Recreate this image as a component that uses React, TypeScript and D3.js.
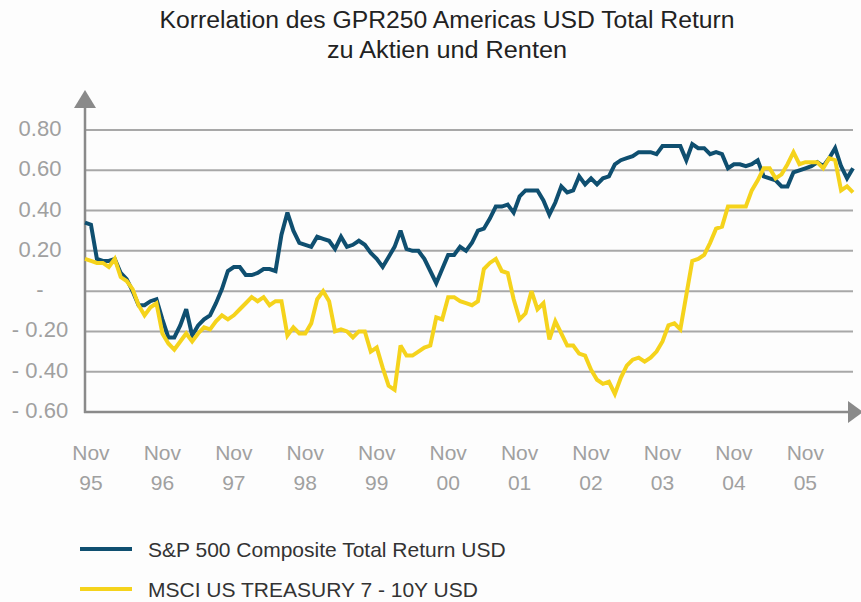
import React from "react";
import * as d3 from "d3";

const months: string[] = d3.timeMonths(new Date(1995, 9, 1), new Date(2006, 7, 1)).map((d) => d3.timeFormat("%Y-%m")(d));

const sp500: number[] = [
  0.34, 0.33, 0.16, 0.15, 0.15, 0.16, 0.09, 0.06, 0.0, -0.07,
  -0.07, -0.05, -0.04, -0.14, -0.23, -0.23, -0.17, -0.09, -0.22, -0.17,
  -0.14, -0.12, -0.06, 0.01, 0.1, 0.12, 0.12, 0.08, 0.08, 0.09,
  0.11, 0.11, 0.1, 0.28, 0.39, 0.3, 0.24, 0.23, 0.22, 0.27,
  0.26, 0.25, 0.21, 0.27, 0.22, 0.23, 0.25, 0.23, 0.19, 0.16,
  0.12, 0.17, 0.22, 0.3, 0.21, 0.2, 0.2, 0.16, 0.1, 0.04,
  0.11, 0.18, 0.18, 0.22, 0.2, 0.24, 0.3, 0.31, 0.36, 0.42,
  0.42, 0.43, 0.39, 0.47, 0.5, 0.5, 0.5, 0.45, 0.38, 0.44,
  0.52, 0.49, 0.5, 0.57, 0.53, 0.56, 0.53, 0.56, 0.57, 0.63,
  0.65, 0.66, 0.67, 0.69, 0.69, 0.69, 0.68, 0.72, 0.72, 0.72,
  0.72, 0.65, 0.73, 0.71, 0.71, 0.68, 0.69, 0.68, 0.61, 0.63,
  0.63, 0.62, 0.63, 0.65, 0.57, 0.56, 0.55, 0.52, 0.52, 0.59,
  0.6, 0.61, 0.62, 0.64, 0.62, 0.66, 0.71, 0.62, 0.56, 0.61,
];

const treasury: number[] = [
  0.16, 0.15, 0.14, 0.14, 0.12, 0.16, 0.07, 0.05, 0.01, -0.07,
  -0.12, -0.08, -0.06, -0.21, -0.26, -0.29, -0.25, -0.21, -0.25, -0.21,
  -0.18, -0.19, -0.15, -0.12, -0.14, -0.12, -0.09, -0.06, -0.03, -0.05,
  -0.03, -0.07, -0.05, -0.05, -0.22, -0.18, -0.21, -0.21, -0.16, -0.04,
  0.0, -0.05, -0.2, -0.19, -0.2, -0.23, -0.2, -0.2, -0.3, -0.28,
  -0.38, -0.47, -0.49, -0.27, -0.32, -0.32, -0.3, -0.28, -0.27, -0.13,
  -0.14, -0.03, -0.03, -0.05, -0.06, -0.07, -0.05, 0.11, 0.14, 0.16,
  0.1, 0.09, -0.04, -0.14, -0.11, 0.0, -0.09, -0.06, -0.24, -0.15,
  -0.21, -0.27, -0.27, -0.31, -0.32, -0.39, -0.44, -0.46, -0.45, -0.51,
  -0.43, -0.37, -0.34, -0.33, -0.35, -0.33, -0.3, -0.25, -0.17, -0.16,
  -0.19, -0.02, 0.15, 0.16, 0.18, 0.24, 0.31, 0.32, 0.42, 0.42,
  0.42, 0.42, 0.5, 0.55, 0.61, 0.61, 0.56, 0.58, 0.63, 0.69,
  0.63, 0.64, 0.64, 0.64, 0.61, 0.66, 0.65, 0.5, 0.52, 0.49,
];

const yTicks: number[] = [0.8, 0.6, 0.4, 0.2, 0, -0.2, -0.4, -0.6];
const yTickLabels: string[] = ["0.80", "0.60", "0.40", "0.20", "-", "- 0.20", "- 0.40", "- 0.60"];
const xTickMonths: string[] = ["1995-11", "1996-11", "1997-11", "1998-11", "1999-11", "2000-11", "2001-11", "2002-11", "2003-11", "2004-11", "2005-11"];
const xTickLabels: string[][] = [
  ["Nov", "95"], ["Nov", "96"], ["Nov", "97"], ["Nov", "98"], ["Nov", "99"], ["Nov", "00"],
  ["Nov", "01"], ["Nov", "02"], ["Nov", "03"], ["Nov", "04"], ["Nov", "05"],
];
const titleLines: string[] = ["Korrelation des GPR250 Americas USD Total Return", "zu Aktien und Renten"];
const seriesNames: string[] = ["S&P 500 Composite Total Return USD", "MSCI US TREASURY 7 - 10Y USD"];

const BLUE = "#0f4f70";
const YELLOW = "#f5d31c";
const FONT = "'Liberation Sans', Arial, sans-serif";

export default function App() {
  const W = 861, H = 602;
  const x = d3.scaleLinear().domain([0, months.length - 1]).range([85, 853]);
  const y = d3.scaleLinear().domain([-0.6, 0.8]).range([412, 130]);
  const line = d3.line<number>().x((_, i) => x(i)).y((d) => y(d)).curve(d3.curveLinear);
  const series = [
    { name: seriesNames[0], values: sp500, color: BLUE },
    { name: seriesNames[1], values: treasury, color: YELLOW },
  ];
  const axisColor = "#8a8a8a";
  const gridColor = "#a8a8a8";
  const titleWidths = [575, 240];
  return (
    <svg width={W} height={H} style={{ position: "absolute", left: 0, top: 0, background: "#fdfdfd" }} fontFamily={FONT}>
      <rect x={0} y={0} width={W} height={H} fill="#fdfdfd" />
      {titleLines.map((t, i) => (
        <text key={t} x={447} y={28 + i * 30} textAnchor="middle" fontSize={23.5} fill="#222"
          textLength={titleWidths[i]} lengthAdjust="spacingAndGlyphs">{t}</text>
      ))}
      {yTicks.map((t, i) => (
        <g key={t}>
          {t > -0.6 && <line x1={85} x2={853} y1={y(t)} y2={y(t)} stroke={gridColor} strokeWidth={2} />}
          <text x={40} y={y(t) + 6} textAnchor="middle" fontSize={22} fill="#a0a0a0">{yTickLabels[i]}</text>
        </g>
      ))}
      <line x1={85} x2={85} y1={106} y2={413} stroke={axisColor} strokeWidth={2.5} />
      <path d="M74,108 L85,90 L96,108 Z" fill={axisColor} />
      <line x1={84} x2={850} y1={y(-0.6)} y2={y(-0.6)} stroke={axisColor} strokeWidth={2.5} />
      <path d={`M848,${y(-0.6) - 11} L863,${y(-0.6)} L848,${y(-0.6) + 11} Z`} fill={axisColor} />
      {xTickMonths.map((m, i) => {
        const xi = x(months.indexOf(m));
        return (
          <g key={m}>
            <text x={xi} y={460} textAnchor="middle" fontSize={21} fill="#a0a0a0">{xTickLabels[i][0]}</text>
            <text x={xi} y={490} textAnchor="middle" fontSize={21} fill="#a0a0a0">{xTickLabels[i][1]}</text>
          </g>
        );
      })}
      {series.map((s) => (
        <path key={s.name} d={line(s.values) || ""} fill="none" stroke={s.color} strokeWidth={4} strokeLinejoin="miter" strokeMiterlimit={3} />
      ))}
      {series.map((s, i) => (
        <g key={s.name} transform={`translate(0, ${549 + i * 40})`}>
          <line x1={80} x2={132} y1={0} y2={0} stroke={s.color} strokeWidth={4} />
          <text x={148} y={8} fontSize={21} fill="#333">{s.name}</text>
        </g>
      ))}
    </svg>
  );
}
